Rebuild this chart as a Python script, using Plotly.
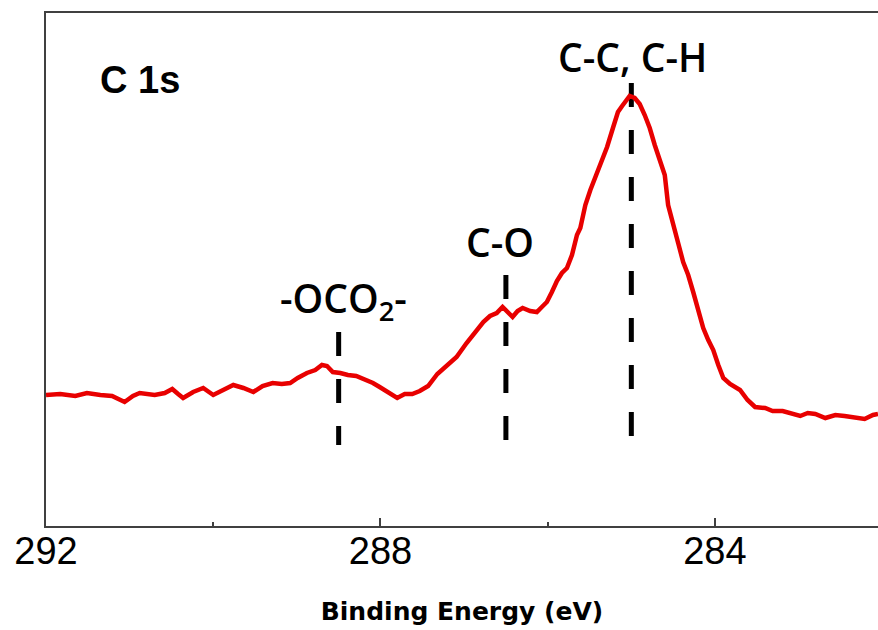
import plotly.graph_objects as go

# C 1s XPS spectrum (binding energy in eV, intensity in arbitrary units)
energy = [292.00, 291.83, 291.65, 291.51, 291.35, 291.21, 291.06, 290.96, 290.88, 290.70,
          290.58, 290.49, 290.42, 290.36, 290.24, 290.12, 290.00, 289.88, 289.76, 289.64,
          289.52, 289.41, 289.29, 289.18, 289.08, 288.99, 288.88, 288.78, 288.70, 288.64,
          288.57, 288.48, 288.39, 288.29, 288.19, 288.09, 288.01, 287.91, 287.80, 287.71,
          287.62, 287.53, 287.43, 287.32, 287.20, 287.09, 286.97, 286.87, 286.77, 286.69,
          286.61, 286.54, 286.48, 286.42, 286.36, 286.30, 286.21, 286.13, 286.07, 286.01,
          285.95, 285.89, 285.83, 285.77, 285.71, 285.65, 285.61, 285.55, 285.49, 285.43,
          285.36, 285.29, 285.22, 285.16, 285.11, 285.05, 285.02, 284.96, 284.90, 284.84,
          284.78, 284.72, 284.66, 284.60, 284.56, 284.50, 284.44, 284.38, 284.32, 284.26,
          284.20, 284.14, 284.08, 284.02, 283.96, 283.90, 283.82, 283.70, 283.61, 283.52,
          283.40, 283.31, 283.19, 283.10, 282.98, 282.89, 282.80, 282.68, 282.56, 282.45,
          282.33, 282.21, 282.11, 282.05]
intensity = [131, 132, 130, 133, 131, 130, 124, 130, 133, 131,
             133, 137, 132, 128, 134, 138, 131, 136, 141, 138,
             134, 140, 143, 142, 143, 148, 153, 156, 161, 160,
             154, 153, 151, 150, 147, 143, 139, 134, 128, 132,
             132, 135, 140, 152, 161, 169, 183, 193, 204, 210,
             213, 219, 214, 209, 215, 218, 215, 214, 219, 224,
             234, 245, 253, 258, 271, 291, 298, 321, 336, 349,
             364, 379, 398, 414, 420, 426, 430, 428, 422, 411,
             398, 381, 366, 351, 321, 300, 283, 264, 251, 234,
             214, 198, 186, 176, 161, 148, 142, 136, 126, 119,
             118, 115, 115, 113, 110, 113, 112, 108, 111, 110,
             109, 107, 111, 112]

# Peak assignments
peak_labels = ["-OCO<sub>2</sub>-", "C-O", "C-C, C-H"]
peak_pos = [288.5, 286.5, 285.0]
peak_top = [194, 251, 443]
marker_bottom = 81
label_y = [226, 285, 470]
label_x = [288.44, 286.57, 284.99]

x_ticks = [292, 288, 284]
x_tick_text = ["292", "288", "284"]

fig = go.Figure()

for px, top in zip(peak_pos, peak_top):
    fig.add_trace(go.Scatter(
        x=[px, px], y=[top, marker_bottom], mode="lines",
        line=dict(color="black", width=5, dash="24px,23px"),
        showlegend=False, hoverinfo="skip"))

fig.add_trace(go.Scatter(
    x=energy, y=intensity, mode="lines",
    line=dict(color="rgb(232,0,0)", width=4.5),
    showlegend=False))

for txt, lx, ly in zip(peak_labels, label_x, label_y):
    fig.add_annotation(x=lx, y=ly, text=txt, showarrow=False,
                       xanchor="center", yanchor="middle",
                       font=dict(family="Open Sans", size=39, color="black",
                                 weight=600))

fig.add_annotation(x=290.88, y=446, text="<b>C 1s</b>", showarrow=False,
                   xanchor="center", yanchor="middle",
                   font=dict(family="Arial, Liberation Sans", size=38, color="black"))

fig.update_layout(
    width=878, height=630,
    margin=dict(l=46, r=0, t=13, b=104),
    plot_bgcolor="white", paper_bgcolor="white",
    xaxis=dict(
        range=[292, 282.05], showgrid=False, zeroline=False,
        showline=True, linecolor="#404040", linewidth=2, mirror=True,
        tickmode="array", tickvals=x_ticks, ticktext=x_tick_text,
        ticks="inside", ticklen=8, tickwidth=1.5, tickcolor="#404040",
        ticklabelstandoff=-10,
        minor=dict(tickvals=[290, 286], ticks="inside", ticklen=4,
                   tickwidth=1.5, tickcolor="#404040"),
        tickfont=dict(family="Arial, Liberation Sans", size=38, color="black"),
        title=dict(text="<b>Binding Energy (eV)</b>",
                   font=dict(family="DejaVu Sans", size=25, color="black"),
                   standoff=32),
    ),
    yaxis=dict(
        range=[0, 513], showgrid=False, zeroline=False,
        showline=True, linecolor="#404040", linewidth=2, mirror=False,
        showticklabels=False, ticks="",
    ),
)

fig.write_html("out.html")
